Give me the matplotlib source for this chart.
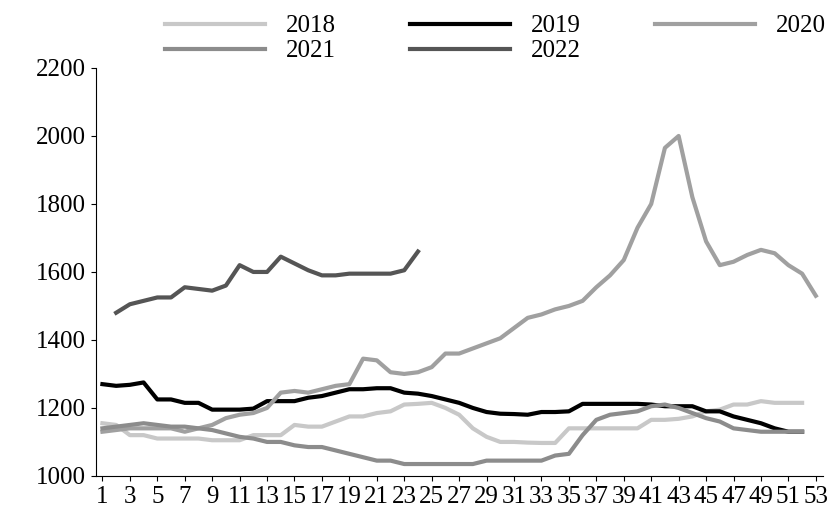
import matplotlib
matplotlib.use('Agg')
import matplotlib.pyplot as plt

plt.rcParams['font.family'] = ['Liberation Serif', 'DejaVu Serif']

weeks = list(range(1, 54))

s2018 = [1155, 1150, 1120, 1120, 1110, 1110, 1110, 1110, 1105, 1105, 1105, 1120, 1120, 1120,
         1150, 1145, 1145, 1160, 1175, 1175, 1185, 1190, 1210, 1212, 1215, 1200, 1180, 1140,
         1115, 1100, 1100, 1098, 1097, 1097, 1140, 1140, 1140, 1140, 1140, 1140, 1165, 1165,
         1168, 1175, 1190, 1195, 1210, 1210, 1220, 1215, 1215, 1215]
s2019 = [1270, 1265, 1268, 1275, 1225, 1225, 1215, 1215, 1195, 1195, 1195, 1198, 1220, 1220,
         1220, 1230, 1235, 1245, 1255, 1255, 1258, 1258, 1245, 1242, 1235, 1225, 1215, 1200,
         1188, 1183, 1182, 1180, 1188, 1188, 1190, 1212, 1212, 1212, 1212, 1212, 1210, 1205,
         1205, 1205, 1190, 1190, 1175, 1165, 1155, 1140, 1130, 1130]
s2020 = [1130, 1135, 1140, 1140, 1140, 1140, 1130, 1140, 1150, 1170, 1180, 1185, 1200, 1245,
         1250, 1245, 1255, 1265, 1270, 1345, 1340, 1305, 1300, 1305, 1320, 1360, 1360, 1375,
         1390, 1405, 1435, 1465, 1475, 1490, 1500, 1515, 1555, 1590, 1635, 1730, 1800, 1965,
         2000, 1820, 1690, 1620, 1630, 1650, 1665, 1655, 1620, 1595, 1530]
s2021 = [1140, 1145, 1150, 1155, 1150, 1145, 1145, 1140, 1135, 1125, 1115, 1110, 1100, 1100,
         1090, 1085, 1085, 1075, 1065, 1055, 1045, 1045, 1035, 1035, 1035, 1035, 1035, 1035,
         1045, 1045, 1045, 1045, 1045, 1060, 1065, 1120, 1165, 1180, 1185, 1190, 1205, 1210,
         1200, 1185, 1170, 1160, 1140, 1135, 1130, 1130, 1130, 1130]
s2022 = [None, 1480, 1505, 1515, 1525, 1525, 1555, 1550, 1545, 1560, 1620, 1600, 1600, 1645,
         1625, 1605, 1590, 1590, 1595, 1595, 1595, 1595, 1605, 1660]

series = [('2018', s2018, '#c8c8c8'), ('2019', s2019, '#000000'), ('2020', s2020, '#a0a0a0'),
          ('2021', s2021, '#8c8c8c'), ('2022', s2022, '#555555')]

fig, ax = plt.subplots(figsize=(8.31, 5.23), dpi=100)
lines = {}
for name, vals, col in series:
    x = weeks[:len(vals)]
    pts = [(a, b) for a, b in zip(x, vals) if b is not None]
    lines[name], = ax.plot([p[0] for p in pts], [p[1] for p in pts], color=col, lw=3, label=name)

ax.set_xlim(0.5, 53.5)
ax.set_ylim(1000, 2200)
ax.set_yticks(range(1000, 2201, 200))
ax.set_xticks(range(1, 54, 2))
ax.tick_params(labelsize=18, direction='out')
ax.spines['top'].set_visible(False)
ax.spines['right'].set_visible(False)

# row-major legend order: 2018 2019 2020 / 2021 2022
order = ['2018', '2021', '2019', '2022', '2020']
ax.legend([lines[k] for k in order], order, loc='upper center', bbox_to_anchor=(0.55, 1.155),
          ncol=3, frameon=False, fontsize=18, handlelength=4, columnspacing=3,
          borderaxespad=0, labelspacing=0.1, handletextpad=0.8)
plt.subplots_adjust(left=0.115, right=0.99, top=0.87, bottom=0.09)
plt.savefig('out.png')
